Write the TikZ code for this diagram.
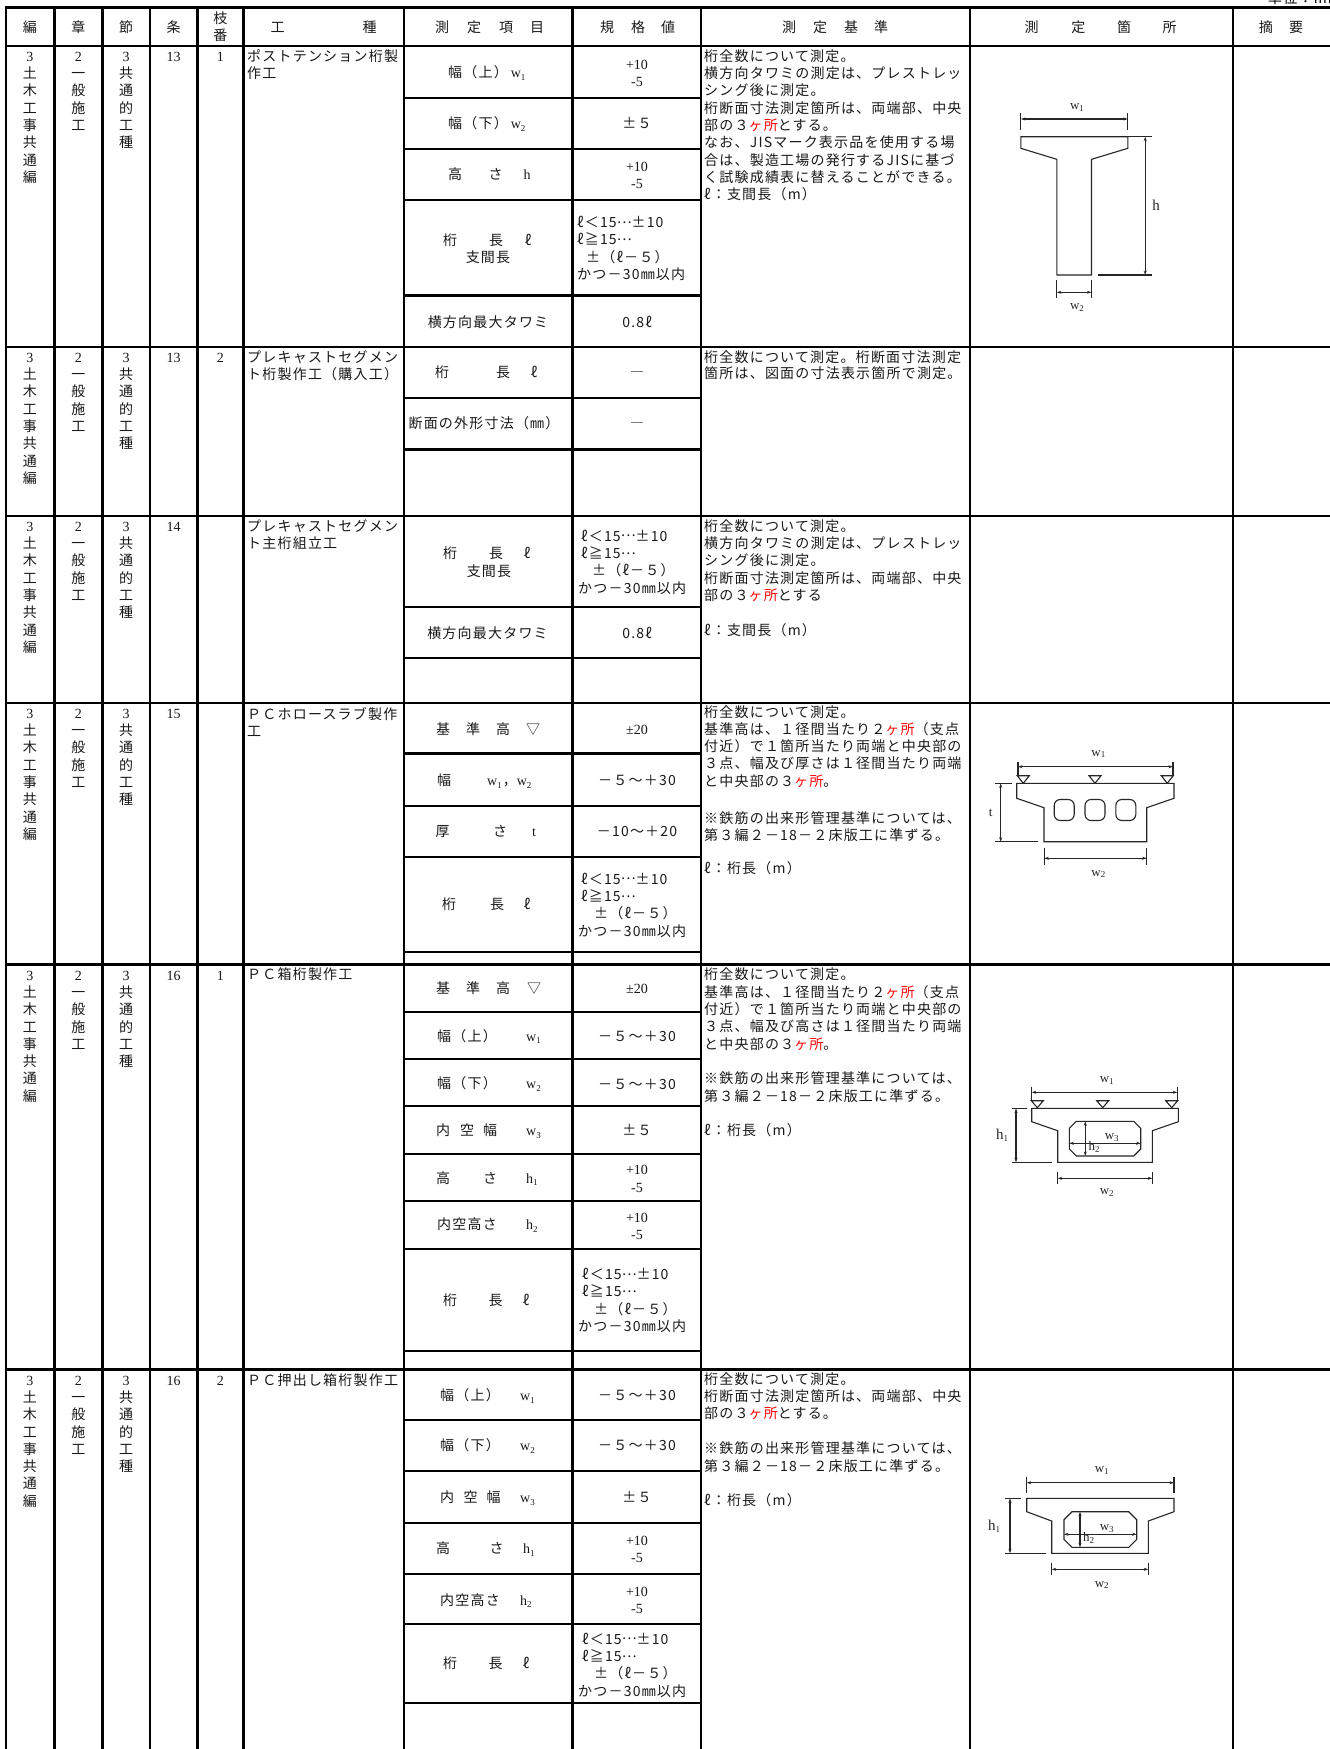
\documentclass[tikz,border=0pt]{standalone}
\usepackage{fontspec}
\setmainfont{Noto Sans CJK JP}[LetterSpace=8.6]
\newfontfamily\lat{Liberation Serif}
\usetikzlibrary{arrows.meta}
\newcommand\fs{\fontsize{14}{17}\selectfont}
\newcommand\sm[1]{\raisebox{-0.2em}{\fontsize{9}{9}\selectfont\lat #1}}
\newcommand\lsub[1]{\raisebox{-0.15em}{\fontsize{9}{9}\selectfont #1}}
\newcommand\red[1]{\textcolor{red}{#1}}
\newcommand\mydots{\raisebox{0.32em}{…}}
\newcommand\txtlines[5]{\foreach \c [count=\i from 0] in {#5}{\node[jl] (#1-\i) at (#2,#3+\i*#4) {\c};}}
\newcommand\ketaval[5]{%
 \node[jl] (#1a) at (#3,#2) {ℓ＜15\mydots±10};
 \node[jl] (#1b) at (#3,#2+17.3) {ℓ≧15\mydots};
 \node[jl] (#1c) at (#4,#2+34.6) {±（ℓ－５）};
 \node[jl] (#1d) at (#5,#2+52) {かつ－30㎜以内};}
\newcommand\secleft[4]{%
 \foreach \c [count=\i from 0] in {{\lat 3},土,木,工,事,共,通,編}{\node[jc] (hen#1-\i) at (30,#2+10.3+\i*17.3) {\c};}
 \foreach \c [count=\i from 0] in {{\lat 2},一,般,施,工}{\node[jc] (sho#1-\i) at (78.4,#2+10.3+\i*17.3) {\c};}
 \foreach \c [count=\i from 0] in {{\lat 3},共,通,的,工,種}{\node[jc] (setsu#1-\i) at (126.2,#2+10.3+\i*17.3) {\c};}
 \node[jc] (jo#1) at (173.7,#2+10.3) {\lat #3};
 \node[jc] (eda#1) at (220.4,#2+10.3) {\lat #4};}
\begin{document}
\begin{tikzpicture}[x=1pt,y=-1pt,
  jt/.style={inner sep=0pt,font=\fs,text=black!90,text height=12.3pt,text depth=1.7pt},
  jl/.style={jt,anchor=west},
  jc/.style={jt,anchor=center},
  tline/.style={line width=2.4pt,line cap=rect,black},
  dg/.style={line width=1.1pt,black!85},
  dimln/.style={dg,{Stealth[length=4.5pt,width=3pt]}-{Stealth[length=4.5pt,width=3pt]}},
  dlab/.style={inner sep=0pt,anchor=center,text=black!85,font=\lat\fontsize{13}{13}\selectfont}]
\useasboundingbox (0,0) rectangle (1330,1749);
\fill[white] (0,0) rectangle (1330,1749);

% unit note (cut at top)
\node[inner sep=0pt,anchor=base west,font=\fs] (unit) at (1268,3) {単位：mm};

% ---------- grid ----------
\foreach \x in {6,54.5,102.3,150,197.3,243.5,404,572.5,701,970,1233}{\draw[tline] (\x,7.3) -- (\x,1749);}
\foreach \y in {7.3,45.7,346.7,515.7,702.7,964.5,1369.5}{\draw[tline] (6,\y) -- (1330,\y);}
\foreach \y in {97.7,149,200,295.3,397.7,449.3,606.7,657.7,753.3,806,856.7,951.7,
  1012,1059,1106,1154,1201,1249,1351,1420,1471,1522.7,1574,1624,1702.7}{\draw[tline] (404,\y) -- (701,\y);}

% ---------- header ----------
\node[jc] (hd1) at (30,27) {編};
\node[jc] (hd2) at (78.4,27) {章};
\node[jc] (hd3) at (126.2,27) {節};
\node[jc] (hd4) at (173.7,27) {条};
\node[jc] (hd5a) at (220.4,18.5) {枝};
\node[jc] (hd5b) at (220.4,35.5) {番};
\node[jc] (hd6a) at (277.7,27) {工};
\node[jc] (hd6b) at (369.6,27) {種};
\node[jc] (hd7a) at (442,27) {測};
\node[jc] (hd7b) at (474,27) {定};
\node[jc] (hd7c) at (506,27) {項};
\node[jc] (hd7d) at (537,27) {目};
\node[jc] (hd8a) at (607,27) {規};
\node[jc] (hd8b) at (638,27) {格};
\node[jc] (hd8c) at (668,27) {値};
\node[jc] (hd9a) at (789,27) {測};
\node[jc] (hd9b) at (820,27) {定};
\node[jc] (hd9c) at (851,27) {基};
\node[jc] (hd9d) at (881,27) {準};
\node[jc] (hd10a) at (1031.6,27) {測};
\node[jc] (hd10b) at (1078.4,27) {定};
\node[jc] (hd10c) at (1124,27) {箇};
\node[jc] (hd10d) at (1169.5,27) {所};
\node[jc] (hd11a) at (1265.8,27) {摘};
\node[jc] (hd11b) at (1296,27) {要};

% ---------- section 1 ----------
\secleft{1}{45.7}{13}{1}
\txtlines{k1}{247}{56}{17.3}{ポストテンション桁製,作工}
\node[jl] (m1a) at (448,72) {幅（上）\hspace{3pt}{\lat w}\sm{1}};
\node[jl] (m1b) at (448,123.3) {幅（下）\hspace{3pt}{\lat w}\sm{2}};
\node[jc] (m1c1) at (455,174.5) {高};
\node[jc] (m1c2) at (495.5,174.5) {さ};
\node[jc] (m1c3) at (527,174.5) {\lat h};
\node[jc] (m1d1) at (450,240) {桁};
\node[jc] (m1d2) at (496,240) {長};
\node[jc] (m1d3) at (528,240) {ℓ};
\node[jc] (m1d4) at (488,257) {支間長};
\node[jc] (m1e) at (488,321.7) {横方向最大タワミ};
\node[jc] (v1a1) at (637,64) {\lat +10};
\node[jc] (v1a2) at (637,81) {\lat -5};
\node[jc] (v1b) at (637,123.3) {±５};
\node[jc] (v1c1) at (637,166) {\lat +10};
\node[jc] (v1c2) at (637,183) {\lat -5};
\ketaval{v1d}{222.3}{577}{586}{577}
\node[jc] (v1e) at (637,322) {0.8ℓ};
\txtlines{c1}{704}{56}{17.3}{桁全数について測定。,横方向タワミの測定は、プレストレッ,シング後に測定。,桁断面寸法測定箇所は、両端部、中央,部の３\red{ヶ所}とする。,なお、JISマーク表示品を使用する場,合は、製造工場の発行するJISに基づ,く試験成績表に替えることができる。,ℓ：支間長（m）}
% T-beam
\draw[dg] (1020.8,136.7) -- (1127.9,136.7) -- (1127.9,148.3) -- (1091.5,159.3) -- (1091.5,275) -- (1056.8,275) -- (1056.8,159.3) -- (1020.8,148.3) -- cycle;
\draw[dg] (1127.9,136.7) -- (1152.2,136.7);
\draw[dg] (1097.6,275) -- (1152.2,275);
\draw[dimln] (1145.2,136.7) -- (1145.2,275);
\draw[dg] (1020.8,113) -- (1020.8,130);
\draw[dg] (1127.9,113) -- (1127.9,130);
\draw[dimln] (1020.8,119) -- (1127.9,119);
\draw[dg] (1056.8,280) -- (1056.8,297.7);
\draw[dg] (1091.5,280) -- (1091.5,297.7);
\draw[dimln] (1056.8,292.3) -- (1091.5,292.3);
\node[dlab] (d1w1) at (1077,107.5) {w\lsub{1}};
\node[dlab,font=\lat\fontsize{15}{15}\selectfont] (d1h) at (1156,205.7) {h};
\node[dlab] (d1w2) at (1077,307.3) {w\lsub{2}};

% ---------- section 2 ----------
\secleft{2}{346.7}{13}{2}
\txtlines{k2}{247}{357}{17.3}{プレキャストセグメン,ト桁製作工（購入工）}
\node[jc] (m2a1) at (442,372.2) {桁};
\node[jc] (m2a2) at (503,372.2) {長};
\node[jc] (m2a3) at (534,372.2) {ℓ};
\node[jc] (m2b) at (484,423.5) {断面の外形寸法（㎜）};
\node[jc] (v2a) at (637,372.2) {―};
\node[jc] (v2b) at (637,423.5) {―};
\txtlines{c2}{704}{356.7}{16.8}{桁全数について測定。桁断面寸法測定,箇所は、図面の寸法表示箇所で測定。}

% ---------- section 3 ----------
\secleft{3}{515.7}{14}{}
\txtlines{k3}{247}{526}{17.3}{プレキャストセグメン,ト主桁組立工}
\node[jc] (m3a1) at (450,553.3) {桁};
\node[jc] (m3a2) at (496,553.3) {長};
\node[jc] (m3a3) at (527,553.3) {ℓ};
\node[jc] (m3a4) at (489,571) {支間長};
\node[jc] (m3b) at (487.5,633) {横方向最大タワミ};
\ketaval{v3a}{536}{581}{592}{578}
\node[jc] (v3b) at (637,633) {0.8ℓ};
\txtlines{c3}{704}{526}{17.3}{桁全数について測定。,横方向タワミの測定は、プレストレッ,シング後に測定。,桁断面寸法測定箇所は、両端部、中央,部の３\red{ヶ所}とする}
\node[jl] (c3l) at (704,630) {ℓ：支間長（m）};

% ---------- section 4 ----------
\secleft{4}{702.7}{15}{}
\txtlines{k4}{247}{714}{17.3}{ＰＣホロースラブ製作,工}
\node[jc] (m4a1) at (443,729.3) {基};
\node[jc] (m4a2) at (473,729.3) {準};
\node[jc] (m4a3) at (503,729.3) {高};
\node[jc] (m4a4) at (533,729.3) {▽};
\node[jc] (m4b1) at (444,780) {幅};
\node[jl] (m4b2) at (487,780) {{\lat w}\sm{1}\hspace{1pt}，{\lat w}\sm{2}};
\node[jc] (m4c1) at (442.5,831) {厚};
\node[jc] (m4c2) at (500,831) {さ};
\node[jc] (m4c3) at (534,831) {\lat t};
\node[jc] (m4d1) at (449,904) {桁};
\node[jc] (m4d2) at (497,904) {長};
\node[jc] (m4d3) at (527,904) {ℓ};
\node[jc] (v4a) at (637,729.3) {\lat ±20};
\node[jc] (v4b) at (637,780) {－５～＋30};
\node[jc] (v4c) at (637,831) {－10～＋20};
\ketaval{v4d}{879}{581}{594}{578}
\txtlines{c4}{704}{711.7}{17.3}{桁全数について測定。,基準高は、１径間当たり２\red{ヶ所}（支点,付近）で１箇所当たり両端と中央部の,３点、幅及び厚さは１径間当たり両端,と中央部の３\red{ヶ所}。}
\txtlines{c4s}{704}{818.3}{17.3}{※鉄筋の出来形管理基準については、,第３編２－18－２床版工に準ずる。}
\node[jl] (c4l) at (704,867.7) {ℓ：桁長（m）};
% hollow slab
\draw[dg] (1016.7,783.3) -- (1174,783.3) -- (1174,798.3) -- (1146.7,807.7) -- (1146.7,841.7) -- (1044,841.7) -- (1044,807.7) -- (1016.7,798.3) -- cycle;
\foreach \cx in {1064.2,1095,1125.8}{\draw[dg,rounded corners=6pt] (\cx-10,799.5) rectangle (\cx+10,820.5);}
\foreach \cx in {1023.3,1095,1167.3}{\draw[dg] (\cx-6,775.7) -- (\cx+6,775.7) -- (\cx,783.3) -- cycle;}
\draw[dg] (1018,762) -- (1018,776);
\draw[dg] (1173,762) -- (1173,776);
\draw[dimln] (1018,766.7) -- (1173,766.7);
\node[dlab] (d4w1) at (1098.3,754) {w\lsub{1}};
\draw[dg] (995,783.3) -- (1011.7,783.3);
\draw[dg] (995,841.7) -- (1038,841.7);
\draw[dimln] (1000.7,783.3) -- (1000.7,841.7);
\node[dlab] (d4t) at (990.7,813.3) {t};
\draw[dg] (1044.3,848) -- (1044.3,865);
\draw[dg] (1146.7,848) -- (1146.7,865);
\draw[dimln] (1044.3,858.3) -- (1146.7,858.3);
\node[dlab] (d4w2) at (1098.3,874) {w\lsub{2}};

% ---------- section 5 ----------
\secleft{5}{964.5}{16}{1}
\node[jl] (k5-0) at (247,974.3) {ＰＣ箱桁製作工};
\node[jc] (m5a1) at (443,988.3) {基};
\node[jc] (m5a2) at (473,988.3) {準};
\node[jc] (m5a3) at (503,988.3) {高};
\node[jc] (m5a4) at (534,988.3) {▽};
\node[jl] (m5b1) at (437,1035.7) {幅（上）};
\node[jl] (m5b2) at (526,1035.7) {{\lat w}\sm{1}};
\node[jl] (m5c1) at (437,1083.3) {幅（下）};
\node[jl] (m5c2) at (526,1083.3) {{\lat w}\sm{2}};
\node[jc] (m5d1) at (443,1130) {内};
\node[jc] (m5d2) at (467,1130) {空};
\node[jc] (m5d3) at (490,1130) {幅};
\node[jl] (m5d4) at (526,1130) {{\lat w}\sm{3}};
\node[jc] (m5e1) at (443,1177.7) {高};
\node[jc] (m5e2) at (490,1177.7) {さ};
\node[jl] (m5e3) at (526,1177.7) {{\lat h}\sm{1}};
\node[jl] (m5f1) at (437,1224.3) {内空高さ};
\node[jl] (m5f2) at (526,1224.3) {{\lat h}\sm{2}};
\node[jc] (m5g1) at (450,1300) {桁};
\node[jc] (m5g2) at (495.6,1300) {長};
\node[jc] (m5g3) at (526,1300) {ℓ};
\node[jc] (v5a) at (637,988.3) {\lat ±20};
\node[jc] (v5b) at (637,1036) {－５～＋30};
\node[jc] (v5c) at (637,1083.7) {－５～＋30};
\node[jc] (v5d) at (637,1130) {±５};
\node[jc] (v5e1) at (637,1169) {\lat +10};
\node[jc] (v5e2) at (637,1186.7) {\lat -5};
\node[jc] (v5f1) at (637,1216.7) {\lat +10};
\node[jc] (v5f2) at (637,1234) {\lat -5};
\ketaval{v5g}{1274.3}{582}{594}{578}
\txtlines{c5}{704}{974.3}{17.4}{桁全数について測定。,基準高は、１径間当たり２\red{ヶ所}（支点,付近）で１箇所当たり両端と中央部の,３点、幅及び高さは１径間当たり両端,と中央部の３\red{ヶ所}。}
\txtlines{c5s}{704}{1078.3}{17.4}{※鉄筋の出来形管理基準については、,第３編２－18－２床版工に準ずる。}
\node[jl] (c5l) at (704,1130) {ℓ：桁長（m）};
% box girder
\draw[dg] (1031.7,1108.3) -- (1178.3,1108.3) -- (1178.3,1121.7) -- (1152.3,1130.7) -- (1152.3,1162.3) -- (1057.7,1162.3) -- (1057.7,1130.7) -- (1031.7,1121.7) -- cycle;
\draw[dg] (1076.3,1121.3) -- (1133.7,1121.3) -- (1140.7,1128.3) -- (1140.7,1149) -- (1133.7,1156) -- (1076.3,1156) -- (1069.3,1149) -- (1069.3,1128.3) -- cycle;
\foreach \cx in {1037.3,1102.7,1171.7}{\draw[dg] (\cx-6,1100.7) -- (\cx+6,1100.7) -- (\cx,1107.7) -- cycle;}
\draw[dg] (1031.7,1086.7) -- (1031.7,1101);
\draw[dg] (1177.3,1086.7) -- (1177.3,1101);
\draw[dimln] (1031.7,1092.3) -- (1177.3,1092.3);
\node[dlab] (d5w1) at (1106.7,1080.7) {w\lsub{1}};
\draw[dimln] (1069.3,1143.3) -- (1140.7,1143.3);
\draw[dimln] (1085.3,1121.3) -- (1085.3,1156);
\node[dlab] (d5w3) at (1111.7,1137.5) {w\lsub{3}};
\node[dlab] (d5h2) at (1094,1147) {h\lsub{2}};
\draw[dg] (1011.7,1108.3) -- (1026.7,1108.3);
\draw[dg] (1011.7,1162.3) -- (1051.7,1162.3);
\draw[dimln] (1016,1108.3) -- (1016,1162.3);
\node[dlab,font=\lat\fontsize{15}{15}\selectfont] (d5h1) at (1002,1135) {h\lsub{1}};
\draw[dg] (1057.7,1171.7) -- (1057.7,1184);
\draw[dg] (1152.3,1171.7) -- (1152.3,1184);
\draw[dimln] (1057.7,1178.3) -- (1152.3,1178.3);
\node[dlab] (d5w2) at (1106.7,1192.7) {w\lsub{2}};

% ---------- section 6 ----------
\secleft{6}{1369.5}{16}{2}
\node[jl] (k6-0) at (247,1380) {ＰＣ押出し箱桁製作工};
\node[jl] (m6a1) at (440,1395) {幅（上）};
\node[jl] (m6a2) at (520,1395) {{\lat w}\sm{1}};
\node[jl] (m6b1) at (440,1445.3) {幅（下）};
\node[jl] (m6b2) at (520,1445.3) {{\lat w}\sm{2}};
\node[jc] (m6c1) at (447,1497) {内};
\node[jc] (m6c2) at (470.7,1497) {空};
\node[jc] (m6c3) at (493.7,1497) {幅};
\node[jl] (m6c4) at (520,1497) {{\lat w}\sm{3}};
\node[jc] (m6d1) at (443,1548) {高};
\node[jc] (m6d2) at (496.7,1548) {さ};
\node[jl] (m6d3) at (523,1548) {{\lat h}\sm{1}};
\node[jl] (m6e1) at (440,1599.7) {内空高さ};
\node[jl] (m6e2) at (520,1599.7) {{\lat h}\sm{2}};
\node[jc] (m6f1) at (450,1663.3) {桁};
\node[jc] (m6f2) at (495.6,1663.3) {長};
\node[jc] (m6f3) at (526,1663.3) {ℓ};
\node[jc] (v6a) at (637,1395) {－５～＋30};
\node[jc] (v6b) at (637,1445.3) {－５～＋30};
\node[jc] (v6c) at (637,1497) {±５};
\node[jc] (v6d1) at (637,1540) {\lat +10};
\node[jc] (v6d2) at (637,1557) {\lat -5};
\node[jc] (v6e1) at (637,1591) {\lat +10};
\node[jc] (v6e2) at (637,1608) {\lat -5};
\ketaval{v6f}{1639}{582}{594}{578}
\txtlines{c6}{704}{1379}{17.3}{桁全数について測定。,桁断面寸法測定箇所は、両端部、中央,部の３\red{ヶ所}とする。}
\txtlines{c6s}{704}{1448.3}{17.4}{※鉄筋の出来形管理基準については、,第３編２－18－２床版工に準ずる。}
\node[jl] (c6l) at (704,1500) {ℓ：桁長（m）};
% pushed box girder
\draw[dg] (1026.7,1498.3) -- (1174,1498.3) -- (1174,1511.7) -- (1148.3,1521) -- (1148.3,1553.3) -- (1051.7,1553.3) -- (1051.7,1521) -- (1026.7,1511.7) -- cycle;
\draw[dg] (1072,1511.7) -- (1128.7,1511.7) -- (1136.7,1519.7) -- (1136.7,1539.3) -- (1128.7,1547.3) -- (1072,1547.3) -- (1064,1539.3) -- (1064,1519.7) -- cycle;
\draw[dg] (1026.7,1476.7) -- (1026.7,1493.3);
\draw[dg] (1174,1476.7) -- (1174,1493.3);
\draw[dimln] (1026.7,1482.7) -- (1174,1482.7);
\node[dlab] (d6w1) at (1101.7,1470.7) {w\lsub{1}};
\draw[dimln] (1064,1534.3) -- (1136.7,1534.3);
\draw[dimln] (1080,1511.7) -- (1080,1547.3);
\node[dlab] (d6w3) at (1106.7,1528.5) {w\lsub{3}};
\node[dlab] (d6h2) at (1088.5,1538) {h\lsub{2}};
\draw[dg] (1005,1498.3) -- (1020.7,1498.3);
\draw[dg] (1005,1553.3) -- (1046,1553.3);
\draw[dimln] (1010,1498.3) -- (1010,1553.3);
\node[dlab,font=\lat\fontsize{15}{15}\selectfont] (d6h1) at (994,1526) {h\lsub{1}};
\draw[dg] (1051.7,1562.7) -- (1051.7,1575);
\draw[dg] (1148.3,1562.7) -- (1148.3,1575);
\draw[dimln] (1051.7,1569.3) -- (1148.3,1569.3);
\node[dlab] (d6w2) at (1101.7,1585) {w\lsub{2}};
\end{tikzpicture}
\end{document}
